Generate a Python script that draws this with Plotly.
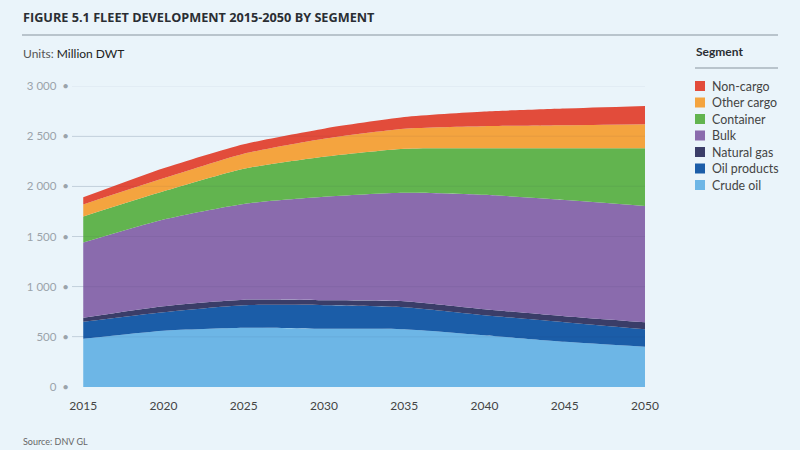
import plotly.graph_objects as go

years = [2015, 2020, 2025, 2030, 2035, 2040, 2045, 2050]

# Million DWT per segment
crude_oil = [480, 560, 590, 580, 575, 515, 450, 400]
oil_products = [170, 185, 225, 235, 220, 200, 195, 175]
natural_gas = [40, 60, 55, 50, 60, 60, 60, 70]
bulk = [750, 865, 955, 1030, 1080, 1140, 1160, 1160]
container = [260, 280, 350, 400, 440, 465, 515, 575]
other_cargo = [120, 130, 150, 180, 200, 220, 230, 240]
non_cargo = [70, 100, 95, 100, 115, 145, 165, 180]

segments = ["Crude oil", "Oil products", "Natural gas", "Bulk", "Container", "Other cargo", "Non-cargo"]
colors = ["#6DB6E6", "#1B5DA8", "#3A3D68", "#8A6BAD", "#62B44F", "#F4A43F", "#E24C3B"]

y_ticks = [0, 500, 1000, 1500, 2000, 2500, 3000]
y_labels = ["0", "500", "1 000", "1 500", "2 000", "2 500", "3 000"]

BG = "#EAF4FA"
FONT = "Lato"
LINE = "#A9B4BC"

# plot area in pixels (fixed margins), used to place the header/legend texts
L, R, T, B = 72, 645, 86, 387


def px(x):
    return (x - L) / (R - L)


def py(y):
    return (B - y) / (B - T)


fig = go.Figure()
for name, values, color in zip(segments,
                               [crude_oil, oil_products, natural_gas, bulk, container, other_cargo, non_cargo],
                               colors):
    fig.add_trace(go.Scatter(
        x=years, y=values, name=name, stackgroup="fleet",
        mode="lines", line=dict(width=0, color=color, shape="spline", smoothing=0.6),
        fillcolor=color, showlegend=False,
    ))

shapes = [
    dict(type="line", xref="paper", yref="paper", x0=px(22), x1=px(778), y0=py(35), y1=py(35),
         line=dict(color=LINE, width=1.5)),
    dict(type="line", xref="paper", yref="paper", x0=px(695), x1=px(778), y0=py(68), y1=py(68),
         line=dict(color=LINE, width=1.5)),
]
# faint gridlines showing through the areas
for v in y_ticks[1:]:
    shapes.append(dict(type="line", xref="paper", yref="y", x0=0, x1=1, y0=v, y1=v,
                       layer="above", line=dict(color="rgba(40,40,80,0.07)", width=1)))

annotations = [
    dict(text="<b>FIGURE 5.1 FLEET DEVELOPMENT 2015-2050 BY SEGMENT</b>",
         xref="paper", yref="paper", x=px(21), y=py(17), xanchor="left", yanchor="middle",
         showarrow=False, font=dict(family="Open Sans", size=12.7, color="#2A2E33")),
    dict(text="Units: <span style='color:#222'>Million DWT</span>",
         xref="paper", yref="paper", x=px(21), y=py(53), xanchor="left", yanchor="middle",
         showarrow=False, font=dict(size=12, color="#555")),
    dict(text="<b>Segment</b>", xref="paper", yref="paper", x=px(694), y=py(52),
         xanchor="left", yanchor="middle", showarrow=False,
         font=dict(size=12, color="#2A2E33")),
    dict(text="Source: DNV GL", xref="paper", yref="paper", x=px(21), y=py(441),
         xanchor="left", yanchor="middle", showarrow=False,
         font=dict(size=9, color="#666")),
]

# legend, top entry is the top of the stack
for i, (name, color) in enumerate(zip(segments[::-1], colors[::-1])):
    yc = 86 + i * 16.5
    shapes.append(dict(type="rect", xref="paper", yref="paper",
                       x0=px(695), x1=px(705), y0=py(yc - 5), y1=py(yc + 5),
                       fillcolor=color, line=dict(width=0)))
    annotations.append(dict(text=name, xref="paper", yref="paper", x=px(710), y=py(yc),
                            xanchor="left", yanchor="middle", showarrow=False,
                            font=dict(size=12.4, color="#444")))

fig.update_layout(
    width=800, height=450,
    paper_bgcolor=BG, plot_bgcolor=BG,
    font=dict(family=FONT, color="#333"),
    margin=dict(l=L, r=800 - R, t=T, b=450 - B, autoexpand=False),
    showlegend=False,
    xaxis=dict(
        range=[2014.3, 2050], tickvals=years, showgrid=False, zeroline=False,
        ticks="", tickfont=dict(size=12, color="#444"), automargin=False,
        ticklabelstandoff=10,
    ),
    yaxis=dict(
        range=[0, 3000], tickvals=y_ticks, ticktext=[t + "  •" for t in y_labels],
        showgrid=True, gridcolor="#CFDDE6", gridwidth=1, zeroline=False,
        tickfont=dict(size=11.5, color="#9AA3AA"), ticks="",
        automargin=False, ticklabelstandoff=2,
    ),
    shapes=shapes,
    annotations=annotations,
)

# the page body has a default 8px margin; drop it so the figure sits at the corner
fig.write_html("out.html", config={"displayModeBar": False},
               post_script="document.body.style.margin='0';")
